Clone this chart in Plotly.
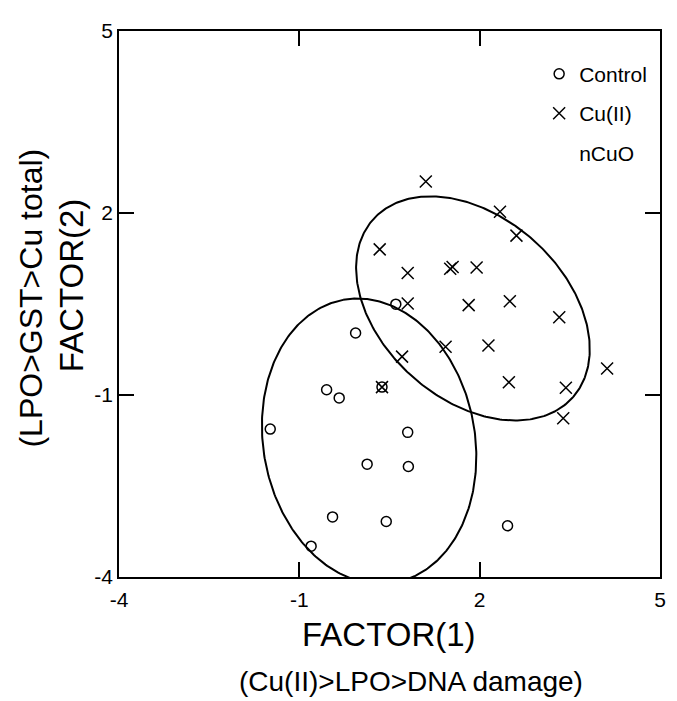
import numpy as np
import plotly.graph_objects as go

# ---- data ----
control_x = [0.605, -0.064, -0.546, -0.337, 0.375, -1.484, 0.803, 0.128, 0.814, -0.447, 0.446, -0.804, 2.464]
control_y = [0.497, 0.022, -0.914, -1.048, -0.870, -1.562, -1.616, -2.140, -2.178, -3.010, -3.086, -3.492, -3.156]

cu_x = [1.104, 2.338, 2.612, 0.337, 0.803, 1.51, 1.55, 1.949, 0.803, 1.817, 2.502, 3.324,
        1.433, 2.146, 0.709, 4.120, 0.375, 2.486, 3.434, 3.390]
cu_y = [2.519, 2.021, 1.627, 1.400, 1.011, 1.08, 1.11, 1.103, 0.508, 0.481, 0.546, 0.281,
        -0.205, -0.184, -0.367, -0.562, -0.870, -0.789, -0.881, -1.384]

# confidence ellipses: centre, semi-axes, rotation (deg)
ell_cx = [0.161, 1.888]
ell_cy = [-1.762, 0.427]
ell_a = [2.37, 2.216]
ell_b = [1.76, 1.51]
ell_ang = [100.5, -41.0]

x_ticks = [-4, -1, 2, 5]
y_ticks = [-4, -1, 2, 5]

series_names = ["Control", "Cu(II)", "nCuO"]

fig = go.Figure()

fig.add_trace(go.Scatter(
    x=control_x, y=control_y, mode="markers", name=series_names[0],
    legendgroup="a",
    marker=dict(symbol="circle-open", size=10, color="black", line=dict(width=1.5, color="black"))
))
fig.add_trace(go.Scatter(
    x=cu_x, y=cu_y, mode="markers", name=series_names[1],
    legendgroup="b",
    marker=dict(symbol="x-thin-open", size=12, color="black", line=dict(width=1.5, color="black"))
))
fig.add_trace(go.Scatter(
    x=[None], y=[None], mode="markers", name=series_names[2],
    legendgroup="c",
    marker=dict(symbol="circle", size=1, color="rgba(0,0,0,0)")
))

t = np.linspace(0, 2 * np.pi, 361)
for cx, cy, a, b, ang in zip(ell_cx, ell_cy, ell_a, ell_b, ell_ang):
    th = np.deg2rad(ang)
    ex = cx + a * np.cos(t) * np.cos(th) - b * np.sin(t) * np.sin(th)
    ey = cy + a * np.cos(t) * np.sin(th) + b * np.sin(t) * np.cos(th)
    fig.add_trace(go.Scatter(x=ex, y=ey, mode="lines", showlegend=False, hoverinfo="skip",
                             line=dict(color="black", width=2)))

font_family = "Liberation Sans, Arial, sans-serif"

axis_common = dict(
    showgrid=False, zeroline=False, showline=True, mirror="ticks",
    linecolor="black", linewidth=1.5,
    ticks="inside", ticklen=15, tickwidth=1.5, tickcolor="black",
    tickfont=dict(size=21, color="black", family=font_family),
)

fig.update_xaxes(range=[-4, 5], tickvals=x_ticks, ticktext=[str(v) for v in x_ticks],
                 ticklabelstandoff=3, **axis_common)
fig.update_yaxes(range=[-4, 5], tickvals=y_ticks, ticktext=[str(v) for v in y_ticks], **axis_common)

# page body has an 8px default margin, so the figure is sized/placed to compensate
fig.update_layout(
    width=669, height=693,
    margin=dict(l=111, r=11, t=16, b=124),
    plot_bgcolor="white", paper_bgcolor="white",
    font=dict(family=font_family, color="black"),
    showlegend=True,
    legend=dict(
        x=0.7766, y=0.9584, xanchor="left", yanchor="top",
        bgcolor="rgba(0,0,0,0)", borderwidth=0,
        font=dict(size=21, color="black", family=font_family),
        traceorder="grouped", tracegroupgap=9,
    ),
    annotations=[
        dict(text="FACTOR(1)", xref="paper", yref="paper", x=0.499, y=-0.1049,
             xanchor="center", yanchor="middle", showarrow=False,
             font=dict(size=33, color="black", family=font_family)),
        dict(text="(Cu(II)>LPO>DNA damage)", xref="paper", yref="paper", x=0.539, y=-0.1917,
             xanchor="center", yanchor="middle", showarrow=False,
             font=dict(size=28, color="black", family=font_family)),
        dict(text="FACTOR(2)", xref="paper", yref="paper", x=-0.0878, y=0.5335,
             xanchor="center", yanchor="middle", showarrow=False, textangle=-90,
             font=dict(size=33, color="black", family=font_family)),
        dict(text="(LPO>GST>Cu total)", xref="paper", yref="paper", x=-0.1627, y=0.5118,
             xanchor="center", yanchor="middle", showarrow=False, textangle=-90,
             font=dict(size=32, color="black", family=font_family)),
    ],
)

fig.write_html("out.html")
